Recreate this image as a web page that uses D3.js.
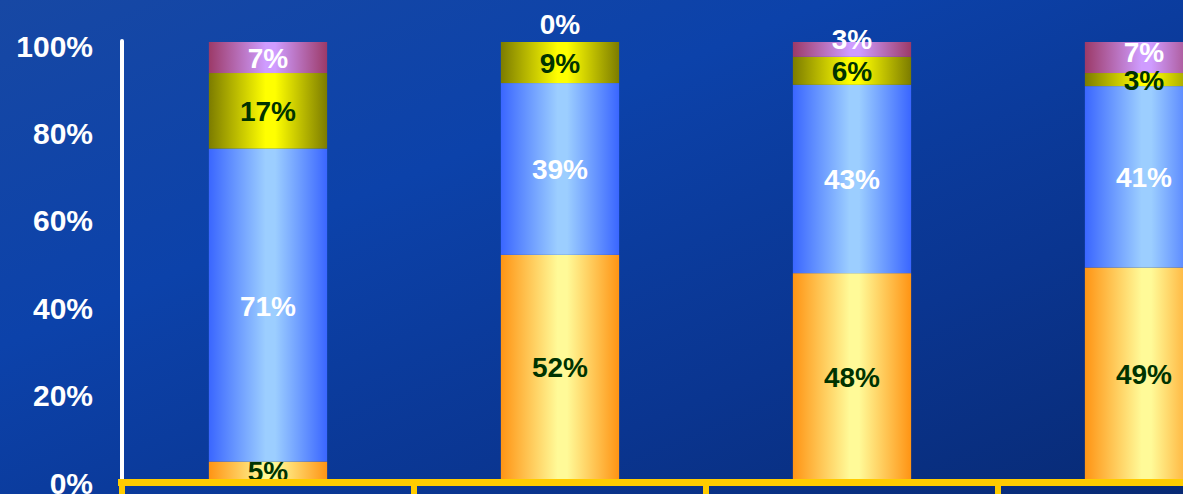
<!DOCTYPE html>
<html>
<head>
<meta charset="utf-8">
<script src="https://cdn.jsdelivr.net/npm/d3@7"></script>
<style>
  html, body { margin: 0; padding: 0; overflow: hidden; background: #0b3a98; }
  svg { display: block; }
  text { font-family: "Liberation Sans", Arial, sans-serif; font-weight: bold; }
</style>
</head>
<body>
<svg class="chart"></svg>
<script>
// data (bottom segment first)
var categories = ["Group 1", "Group 2", "Group 3", "Group 4"];
var seriesNames = ["Series A", "Series B", "Series C", "Series D"];
var seriesA = [4.0, 51.3, 47.1, 48.4];   // orange
var seriesB = [71.6, 39.3, 43.1, 41.5];  // blue
var seriesC = [17.3, 9.4, 6.4, 3.0];     // yellow
var seriesD = [7.1, 0.0, 3.4, 7.1];      // pink
var labelA = ["5%", "52%", "48%", "49%"];
var labelB = ["71%", "39%", "43%", "41%"];
var labelC = ["17%", "9%", "6%", "3%"];
var labelD = ["7%", "0%", "3%", "7%"];
var yTicks = [0, 20, 40, 60, 80, 100];

var width = 1183,
    height = 494;

var margin = {top: 42, bottom: 15, left: 122};

var chart = d3.select(".chart")
  .attr("width", width)
  .attr("height", height);

var defs = chart.append("defs");

// background
var bg = defs.append("linearGradient").attr("id", "bg")
  .attr("x1", "0%").attr("y1", "0%").attr("x2", "100%").attr("y2", "100%");
bg.append("stop").attr("offset", "0%").attr("stop-color", "#1748a4");
bg.append("stop").attr("offset", "35%").attr("stop-color", "#0c42aa");
bg.append("stop").attr("offset", "70%").attr("stop-color", "#0a3590");
bg.append("stop").attr("offset", "100%").attr("stop-color", "#082a74");

chart.append("rect")
  .attr("width", width).attr("height", height)
  .attr("fill", "url(#bg)");

// bar fills: darker edges, light middle
var fills = [
  {edge: "#ff9414", mid: "#fffa98"},
  {edge: "#3a66ff", mid: "#9cceff"},
  {edge: "#7c7c00", mid: "#ffff00"},
  {edge: "#9c3a68", mid: "#cf9cff"}
];
fills.forEach(function(f, i) {
  var g = defs.append("linearGradient").attr("id", "fill" + i)
    .attr("x1", "0%").attr("x2", "100%").attr("y1", "0%").attr("y2", "0%");
  g.append("stop").attr("offset", "0%").attr("stop-color", f.edge);
  g.append("stop").attr("offset", "48%").attr("stop-color", f.mid);
  g.append("stop").attr("offset", "56%").attr("stop-color", f.mid);
  g.append("stop").attr("offset", "100%").attr("stop-color", f.edge);
});

var labelColors = ["#003300", "#ffffff", "#003300", "#ffffff"];

// table for the stack
var table = categories.map(function(c, i) {
  return {cat: c, A: seriesA[i], B: seriesB[i], C: seriesC[i], D: seriesD[i],
          labels: [labelA[i], labelB[i], labelC[i], labelD[i]]};
});

var stack = d3.stack().keys(["A", "B", "C", "D"]);
var stacked = stack(table);

var y = d3.scaleLinear()
  .domain([0, 100])
  .range([height - margin.bottom, margin.top]);

var x = d3.scaleBand()
  .domain(categories)
  .range([margin.left, margin.left + 292 * categories.length])
  .paddingInner(0.595)
  .paddingOuter(0.2975);

// y axis labels
chart.append("g").selectAll("text")
  .data(yTicks)
  .enter().append("text")
  .attr("x", 93)
  .attr("y", function(d) { return y(d) + 4; })
  .attr("text-anchor", "end")
  .attr("dominant-baseline", "central")
  .attr("fill", "#ffffff")
  .attr("font-size", 30)
  .text(function(d) { return d + "%"; });

// white y axis line
chart.append("line")
  .attr("x1", margin.left).attr("x2", margin.left)
  .attr("y1", y(100) - 1).attr("y2", y(0))
  .attr("stroke", "#ffffff")
  .attr("stroke-width", 4)
  .attr("stroke-linecap", "round");

// bars
var layers = chart.selectAll("g.layer")
  .data(stacked)
  .enter().append("g")
  .attr("class", "layer")
  .attr("fill", function(d, i) { return "url(#fill" + i + ")"; });

layers.selectAll("rect")
  .data(function(d) { return d; })
  .enter().append("rect")
  .attr("x", function(d) { return x(d.data.cat); })
  .attr("width", x.bandwidth())
  .attr("y", function(d) { return y(d[1]); })
  .attr("height", function(d) { return y(d[0]) - y(d[1]); });

// x axis (yellow) with ticks at category boundaries
var axisY = y(0) + 3.5;
var boundaries = categories.map(function(c) { return x(c) - x.step() * x.paddingOuter(); });
chart.append("g").selectAll("line")
  .data(boundaries)
  .enter().append("line")
  .attr("x1", function(d) { return d; })
  .attr("x2", function(d) { return d; })
  .attr("y1", axisY)
  .attr("y2", height)
  .attr("stroke", "#ffcc00")
  .attr("stroke-width", 6);

// value labels
stacked.forEach(function(layer, li) {
  chart.append("g").selectAll("text")
    .data(layer)
    .enter().append("text")
    .attr("x", function(d) { return x(d.data.cat) + x.bandwidth() / 2; })
    .attr("y", function(d, i) {
      var top = y(d[1]), bot = y(d[0]);
      if (bot - top < 1) return top - 18;               // empty segment: above the bar
      if (li === 3 && bot - top < 16) return (top + bot) / 2 - 10;
      // make room when the segment below is thin
      if (li === 3 && (y(stacked[2][i][0]) - y(stacked[2][i][1])) < 16) return (top + bot) / 2 - 5;
      return (top + bot) / 2 + 1;
    })
    .attr("text-anchor", "middle")
    .attr("dominant-baseline", "central")
    .attr("font-size", 28)
    .attr("fill", function(d) { return (y(d[0]) - y(d[1]) < 1) ? "#ffffff" : labelColors[li]; })
    .text(function(d) { return d.data.labels[li]; });
});

// axis line drawn last so it sits over the bottom label like the original
chart.append("line")
  .attr("x1", margin.left - 4).attr("x2", width)
  .attr("y1", axisY).attr("y2", axisY)
  .attr("stroke", "#ffcc00")
  .attr("stroke-width", 7);
</script>
</body>
</html>
